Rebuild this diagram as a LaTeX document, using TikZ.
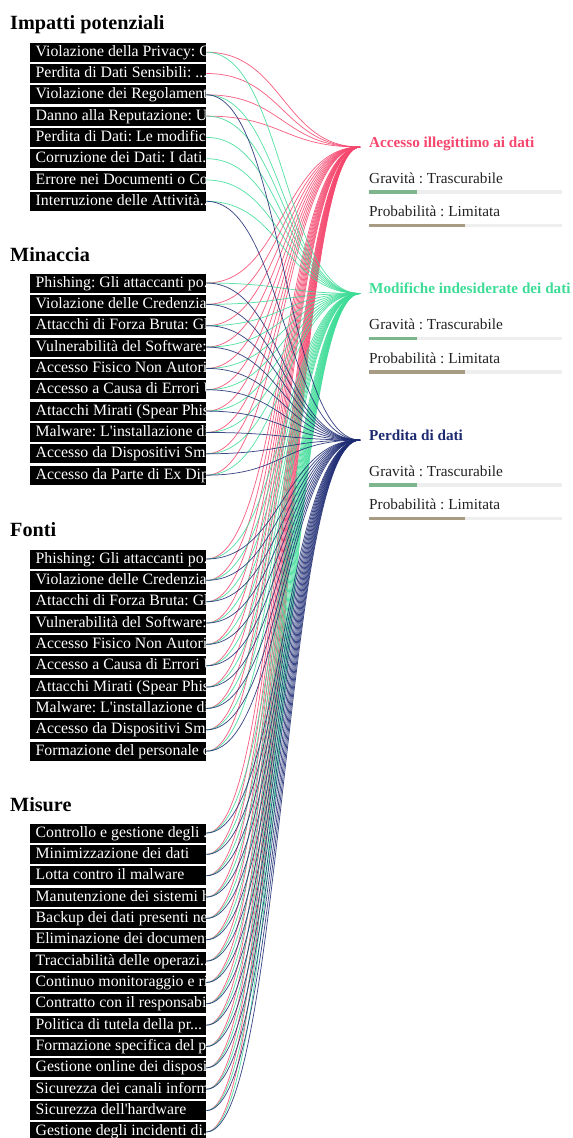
\documentclass[tikz,border=0pt]{standalone}
\usepackage{fontspec}
\setmainfont{Liberation Serif}
\usepackage{tikz}
\usetikzlibrary{positioning, calc}
\usepackage{xcolor}

\definecolor{acccol}{HTML}{F5476E}
\definecolor{modcol}{HTML}{3DDC97}
\definecolor{percol}{HTML}{1C2A72}
\definecolor{gravbar}{HTML}{7DB58C}
\definecolor{probbar}{HTML}{A89B83}
\definecolor{trackgray}{HTML}{EEEEEE}
\definecolor{darktext}{HTML}{222222}
\newcommand{\cutdots}{...}
\frenchspacing

\begin{document}
\begin{tikzpicture}[x=1pt, y=-1pt,
    head/.style={anchor=base west, inner sep=0pt, font=\fontsize{20.2}{23}\selectfont\bfseries},
    item/.style={anchor=west, fill=black, text=white, inner xsep=5.5pt, inner ysep=1pt,
        text height=12.5pt, text depth=4.5pt, font=\fontsize{15.8}{18}\selectfont},
    rtitle/.style={anchor=base west, inner sep=0pt, font=\fontsize{15.2}{18}\selectfont\bfseries},
    rtext/.style={anchor=base west, inner sep=0pt, text=darktext, font=\fontsize{15.3}{18}\selectfont},
    link/.style={draw=#1col, line width=0.75pt, draw opacity=0.85}
  ]
        \useasboundingbox (0,0) rectangle (573,1138);

        % headings
        \node[head] (himp) at (10,29.5) {Impatti potenziali};
        \node[head] (hmin) at (10,261) {Minaccia};
        \node[head] (hfon) at (10,536.5) {Fonti};
        \node[head] (hmis) at (10,811) {Misure};

        % item boxes, text cut at the box edge
        \begin{scope}
          \clip (30,0) rectangle (206,1138);
          \foreach \txt [count=\k] in {Violazione della Privacy: G, Perdita di Dati Sensibili: \cutdots,
              Violazione dei Regolament, Danno alla Reputazione: U, Perdita di Dati: Le modific\cutdots,
              Corruzione dei Dati: I dati\cutdots, Errore nei Documenti o Co, Interruzione delle Attività\cutdots}
            \node[item] (imp\k) at (30,{52.2+21.3*(\k-1)}) {\makebox[165pt][l]{\txt}};
          \foreach \txt [count=\k] in {Phishing: Gli attaccanti po\cutdots, Violazione delle Credenziali,
              Attacchi di Forza Bruta: Gl, Vulnerabilità del Software: , Accesso Fisico Non Autoriz,
              Accesso a Causa di Errori U, Attacchi Mirati (Spear Phis, Malware: L\textquotesingle installazione di,
              Accesso da Dispositivi Sma, Accesso da Parte di Ex Dip}
            \node[item] (min\k) at (30,{283+21.35*(\k-1)}) {\makebox[165pt][l]{\txt}};
          \foreach \txt [count=\k] in {Phishing: Gli attaccanti po\cutdots, Violazione delle Credenziali,
              Attacchi di Forza Bruta: Gl, Vulnerabilità del Software: , Accesso Fisico Non Autoriz,
              Accesso a Causa di Errori U, Attacchi Mirati (Spear Phis, Malware: L\textquotesingle installazione di,
              Accesso da Dispositivi Sma, Formazione del personale c}
            \node[item] (fon\k) at (30,{559+21.35*(\k-1)}) {\makebox[165pt][l]{\txt}};
          \foreach \txt [count=\k] in {Controllo e gestione degli \cutdots, Minimizzazione dei dati,
              Lotta contro il malware, Manutenzione dei sistemi h, Backup dei dati presenti ne,
              Eliminazione dei document, Tracciabilità delle operazi\cutdots, Continuo monitoraggio e ri,
              Contratto con il responsabi\cutdots, Politica di tutela della pr\cutdots, Formazione specifica del pe,
              Gestione online dei disposi, Sicurezza dei canali inform, Sicurezza dell\textquotesingle hardware,
              Gestione degli incidenti di\cutdots}
            \node[item] (mis\k) at (30,{833+21.35*(\k-1)}) {\makebox[165pt][l]{\txt}};
        \end{scope}

        % risks on the right
        \foreach \tg/\y/\lab in {acc/147/Accesso illegittimo ai dati,
            mod/293.5/Modifiche indesiderate dei dati, per/440/Perdita di dati} {
          \coordinate (\tg) at (360,\y);
          \node[rtitle, text=\tg col] (\tg name) at (369,\y) {\lab};
          \node[rtext] (\tg grav) at (369,\y+36) {Gravità : Trascurabile};
          \fill[trackgray] (369,\y+43.3) rectangle (562,\y+46.7);
          \fill[gravbar] (369,\y+43.3) rectangle (417,\y+46.7);
          \node[rtext] (\tg prob) at (369,\y+69.5) {Probabilità : Limitata};
          \fill[trackgray] (369,\y+76.8) rectangle (562,\y+80.2);
          \fill[probbar] (369,\y+76.8) rectangle (465,\y+80.2);
        }

        % links
        \foreach \k/\tg in {1/acc, 2/acc, 3/acc, 4/acc}
          \draw[link=\tg] (imp\k.east) .. controls +(76.5,0) and +(-76.5,0) .. (\tg);
        \foreach \g/\n in {min/10, fon/10, mis/15}
          \foreach \k in {1,...,\n}
            \draw[link=acc] (\g\k.east) .. controls +(76.5,0) and +(-76.5,0) .. (acc);
        \foreach \k/\tg in {1/mod, 3/mod, 4/mod, 5/mod, 6/mod, 7/mod, 8/mod}
          \draw[link=\tg] (imp\k.east) .. controls +(76.5,0) and +(-76.5,0) .. (\tg);
        \foreach \g/\n in {min/10, fon/10, mis/15}
          \foreach \k in {1,...,\n}
            \draw[link=mod] (\g\k.east) .. controls +(76.5,0) and +(-76.5,0) .. (mod);
        \foreach \k/\tg in {3/per, 8/per}
          \draw[link=\tg] (imp\k.east) .. controls +(76.5,0) and +(-76.5,0) .. (\tg);
        \foreach \g/\n in {min/10, fon/10, mis/15}
          \foreach \k in {1,...,\n}
            \draw[link=per] (\g\k.east) .. controls +(76.5,0) and +(-76.5,0) .. (per);

      \end{tikzpicture}
\end{document}
